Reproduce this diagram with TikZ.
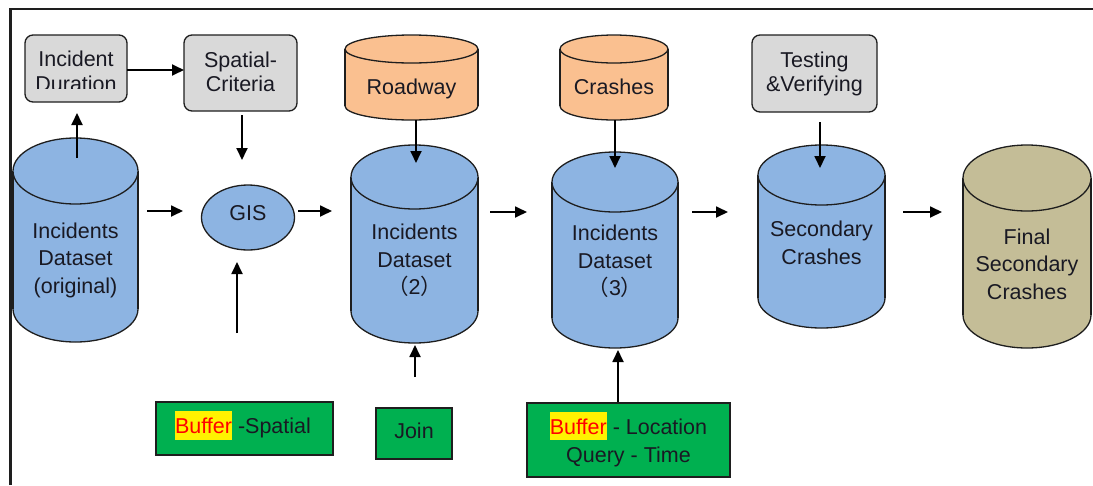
\documentclass[tikz,border=0pt]{standalone}
\usepackage{fontspec}
\setmainfont{Liberation Sans}
\newfontfamily\cjk{Noto Sans CJK SC}
\usetikzlibrary{arrows.meta,shapes.geometric}
\definecolor{blueF}{RGB}{141,180,226}
\definecolor{orangeF}{RGB}{250,192,144}
\definecolor{grayF}{RGB}{217,217,217}
\definecolor{tanF}{RGB}{196,189,151}
\definecolor{greenF}{RGB}{0,176,80}
\definecolor{txt}{RGB}{25,25,35}
\definecolor{edge}{RGB}{30,30,30}
\newcommand\dbcyl[6]{%
  \draw[cylline,fill=#6] (#1,#3-#5) ellipse [x radius=#4pt, y radius=#5pt];
  \fill[#6] (#1-#4,#2+#5) rectangle (#1+#4,#3-#5);
  \draw[cylline] (#1-#4,#2+#5) -- (#1-#4,#3-#5) (#1+#4,#2+#5) -- (#1+#4,#3-#5);
  \draw[cylline,fill=#6] (#1,#2+#5) ellipse [x radius=#4pt, y radius=#5pt];
}
\newcommand\hlbuf[2]{{\setlength\fboxsep{0pt}\colorbox{yellow}{\rule[-#1pt]{0pt}{#2pt}\color{red}Buffer}}}
\begin{document}
\begin{tikzpicture}[x=1pt,y=-1pt,
  cylline/.style={draw=edge,line width=1.3pt},
  tx/.style={font=\fontsize{21.5pt}{27.5pt}\selectfont,align=center,inner sep=0pt,text=txt},
  btx/.style={font=\fontsize{21.5pt}{24pt}\selectfont,align=center,inner sep=0pt,text=txt},
  graybox/.style={draw=edge,line width=1.3pt,fill=grayF,rounded corners=8pt,inner sep=0pt},
  greenbox/.style={draw=edge,line width=1.3pt,fill=greenF,inner sep=0pt},
  arr/.style={draw=black,line width=1.8pt,-{Triangle[length=12pt,width=11pt]}}]
\useasboundingbox (0,0) rectangle (1093,485);
% frame
\draw[line width=2.6pt,draw=edge] (10.5,485) -- (10.5,9) -- (1093,9);

% gray boxes
\node[graybox,minimum width=102pt,minimum height=67pt] (id) at (76,68.5) {};
\begin{scope}
  \clip (25,35) rectangle (127,88.5);
  \node[btx] (idt) at (76,71.4) {Incident\\[0.5pt]Duration};
\end{scope}
\node[graybox,minimum width=113pt,minimum height=76pt] (sc) at (240.5,73) {};
\node[btx] (sct) at (240.5,71.7) {Spatial-\\Criteria};
\node[graybox,minimum width=125pt,minimum height=77pt] (tv) at (814.5,73.5) {};
\node[btx] (tvt) at (814.5,73.8) {Testing\\\&Verifying};

% cylinders
\dbcyl{75.5}{138}{342}{62.5}{33}{blueF}
\node[tx] (c1) at (75.5,260.3) {Incidents\\Dataset\\(original)};
\dbcyl{414.5}{145}{343}{63.5}{32}{blueF}
\node[tx] (c2) at (414.5,260.4) {Incidents\\Dataset\\{\cjk （}2{\cjk ）}};
\dbcyl{615}{152}{348}{63}{30}{blueF}
\node[tx] (c3) at (615,261.4) {Incidents\\Dataset\\{\cjk （}3{\cjk ）}};
\dbcyl{821.5}{145}{328}{63.5}{30}{blueF}
\node[tx] (c4) at (821.5,243) {Secondary\\Crashes};
\dbcyl{1027}{145}{348}{64}{33}{tanF}
\node[tx] (c5) at (1027,264) {Final\\Secondary\\Crashes};
\dbcyl{411.5}{35}{120}{66.5}{14}{orangeF}
\node[tx] (rw) at (411.5,89.4) {Roadway};
\dbcyl{614}{35}{120}{54}{14}{orangeF}
\node[tx] (cr) at (614,87.2) {Crashes};

% GIS
\node[ellipse,draw=edge,line width=1.3pt,fill=blueF,minimum width=93pt,minimum height=65pt,inner sep=0pt,
  font=\fontsize{21.5pt}{27.5pt}\selectfont,text=txt,text height=15.5pt,text depth=9pt] (gis) at (248,217.5) {GIS};

% green boxes
\node[greenbox,minimum width=177pt,minimum height=53pt] (bs) at (244.5,428.5) {};
\node[tx] (bst) at (243,425.3) {\hlbuf{7}{29.5} -Spatial};
\node[greenbox,minimum width=76pt,minimum height=51pt] (jn) at (414,433.5) {};
\node[tx] (jnt) at (414,430.8) {Join};
\node[greenbox,minimum width=203pt,minimum height=74pt] (bl) at (628.5,440) {};
\node[font=\fontsize{21.5pt}{28pt}\selectfont,align=center,inner sep=0pt,text=txt] (blt) at (628.5,439) {\hlbuf{5.5}{28} - Location\\Query - Time};

% connector end points
\coordinate (p1s) at (77,158);   \coordinate (p1e) at (77,113);
\coordinate (p2s) at (127,70);   \coordinate (p2e) at (184,70);
\coordinate (p3s) at (242,115);  \coordinate (p3e) at (242,160);
\coordinate (p4s) at (147,211);  \coordinate (p4e) at (183,211);
\coordinate (p5s) at (298,211);  \coordinate (p5e) at (332,211);
\coordinate (p6s) at (237,333);  \coordinate (p6e) at (237,262);
\coordinate (p7s) at (416,120);  \coordinate (p7e) at (416,163);
\coordinate (p8s) at (415,377);  \coordinate (p8e) at (415,345);
\coordinate (p9s) at (490,212);  \coordinate (p9e) at (527,212);
\coordinate (p10s) at (615,120); \coordinate (p10e) at (615,168);
\coordinate (p11s) at (618,402); \coordinate (p11e) at (618,350);
\coordinate (p12s) at (692,212); \coordinate (p12e) at (728,212);
\coordinate (p13s) at (820,122); \coordinate (p13e) at (820,168);
\coordinate (p14s) at (903,212); \coordinate (p14e) at (942,212);

\foreach \i in {1,...,14} {\draw[arr] (p\i s) -- (p\i e);}
\end{tikzpicture}
\end{document}
